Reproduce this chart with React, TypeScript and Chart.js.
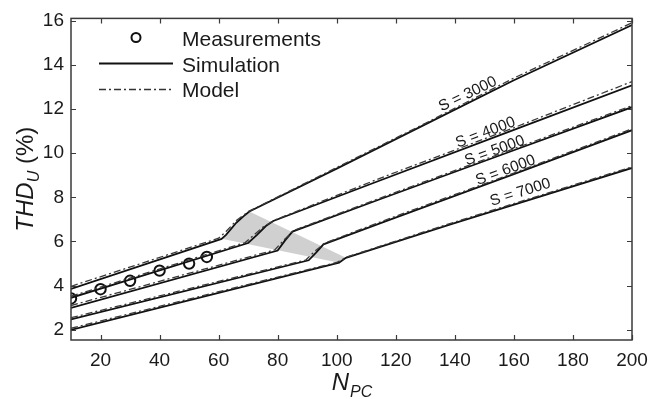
import React, { useEffect, useRef } from "react";
import { Chart, registerables } from "chart.js";
Chart.register(...registerables);

// ---- data ----
const xTicks = [20, 40, 60, 80, 100, 120, 140, 160, 180, 200];
const yTicks = [2, 4, 6, 8, 10, 12, 14, 16];

const measN = [10, 20, 30, 40, 50, 56];
const measTHD = [3.42, 3.84, 4.22, 4.68, 5.0, 5.3];

const sim3000N = [10, 61, 62.5, 66, 68.5, 70.4, 100, 130, 160, 200];
const sim3000THD = [3.85, 6.12, 6.3, 6.85, 7.15, 7.36, 9.3, 11.3, 13.3, 15.8];
const sim4000N = [10, 70, 73, 76, 78.5, 114.4, 160, 200];
const sim4000THD = [3.45, 5.93, 6.3, 6.7, 6.93, 8.75, 11.05, 13.07];
const sim5000N = [10, 80, 82.5, 85, 114.4, 160, 200];
const sim5000THD = [2.99, 5.59, 6.05, 6.45, 7.9, 10.13, 12.08];
const sim6000N = [10, 90.5, 93, 95.5, 114.4, 160, 200];
const sim6000THD = [2.47, 5.15, 5.5, 5.87, 6.81, 9.05, 11.04];
const sim7000N = [10, 100.8, 103.1, 138, 200];
const sim7000THD = [2.0, 5.04, 5.26, 6.75, 9.33];

const mod3000N = [10, 60, 62.5, 66, 70, 100, 130, 160, 200];
const mod3000THD = [3.97, 6.15, 6.45, 6.95, 7.35, 9.35, 11.35, 13.4, 15.9];
const mod4000N = [10, 69, 72, 75, 79, 114.4, 160, 200];
const mod4000THD = [3.52, 5.95, 6.3, 6.65, 6.97, 8.85, 11.15, 13.24];
const mod5000N = [10, 79, 82, 85.5, 114.4, 160, 200];
const mod5000THD = [3.1, 5.62, 6.05, 6.5, 7.95, 10.2, 12.15];
const mod6000N = [10, 89.5, 92.5, 96, 114.4, 160, 200];
const mod6000THD = [2.55, 5.16, 5.55, 5.93, 6.87, 9.1, 11.1];
const mod7000N = [10, 100, 103.5, 138, 200];
const mod7000THD = [2.07, 5.05, 5.3, 6.8, 9.38];

const shadeN = [61, 70.4, 103.1, 100.8];
const shadeTHD = [6.12, 7.36, 5.26, 5.04];

const curveLabels = ["S = 3000", "S = 4000", "S = 5000", "S = 6000", "S = 7000"];
const labelN = [144.4, 150.4, 153.5, 157.2, 162.2];
const labelTHD = [12.67, 10.93, 10.11, 9.22, 8.22];

const legendLabels = ["Measurements", "Simulation", "Model"];

const FONT = "'Liberation Sans', Arial, sans-serif";
const TEXT = "#1a1a1a";

const pts = (xs: number[], ys: number[]) => xs.map((x, i) => ({ x, y: ys[i] }));

const simSets = [
  [sim3000N, sim3000THD],
  [sim4000N, sim4000THD],
  [sim5000N, sim5000THD],
  [sim6000N, sim6000THD],
  [sim7000N, sim7000THD],
];
const modSets = [
  [mod3000N, mod3000THD],
  [mod4000N, mod4000THD],
  [mod5000N, mod5000THD],
  [mod6000N, mod6000THD],
  [mod7000N, mod7000THD],
];

const overlay = {
  id: "overlay",
  beforeDatasetsDraw(chart: any) {
    const { ctx, scales } = chart;
    const x = scales.x, y = scales.y;
    ctx.save();
    ctx.beginPath();
    shadeN.forEach((n, i) => {
      const px = x.getPixelForValue(n), py = y.getPixelForValue(shadeTHD[i]);
      if (i === 0) ctx.moveTo(px, py); else ctx.lineTo(px, py);
    });
    ctx.closePath();
    ctx.fillStyle = "#d0d0d0";
    ctx.fill();
    ctx.restore();
  },
  afterDraw(chart: any) {
    const { ctx, chartArea: a, scales } = chart;
    const x = scales.x, y = scales.y;
    ctx.save();
    // box
    ctx.strokeStyle = "#3a3a3a";
    ctx.lineWidth = 1.5;
    ctx.strokeRect(a.left, a.top, a.right - a.left, a.bottom - a.top);
    // inward ticks
    ctx.lineWidth = 1.2;
    ctx.beginPath();
    const tl = 5;
    xTicks.forEach((v) => {
      const px = Math.round(x.getPixelForValue(v)) + 0.5;
      ctx.moveTo(px, a.bottom); ctx.lineTo(px, a.bottom - tl);
      ctx.moveTo(px, a.top); ctx.lineTo(px, a.top + tl);
    });
    yTicks.forEach((v) => {
      const py = Math.round(y.getPixelForValue(v)) + 0.5;
      ctx.moveTo(a.left, py); ctx.lineTo(a.left + tl, py);
      ctx.moveTo(a.right, py); ctx.lineTo(a.right - tl, py);
    });
    ctx.stroke();

    ctx.fillStyle = TEXT;
    ctx.textBaseline = "alphabetic";
    // x title N_PC
    {
      const cx = (a.left + a.right) / 2;
      ctx.font = `italic 24px ${FONT}`;
      const w1 = ctx.measureText("N").width;
      ctx.font = `italic 16px ${FONT}`;
      const w2 = ctx.measureText("PC").width;
      const sx = cx - (w1 + w2) / 2;
      ctx.font = `italic 24px ${FONT}`;
      ctx.textAlign = "left";
      ctx.fillText("N", sx, 390);
      ctx.font = `italic 16px ${FONT}`;
      ctx.fillText("PC", sx + w1 + 1, 397);
    }
    // y title THD_U (%)
    {
      const cy = (a.top + a.bottom) / 2;
      ctx.save();
      ctx.translate(33, cy);
      ctx.rotate(-Math.PI / 2);
      ctx.font = `italic 24px ${FONT}`;
      const w1 = ctx.measureText("THD").width;
      ctx.font = `italic 16px ${FONT}`;
      const w2 = ctx.measureText("U").width;
      ctx.font = `24px ${FONT}`;
      const w3 = ctx.measureText(" (%)").width;
      const sx = -(w1 + w2 + w3) / 2;
      ctx.textAlign = "left";
      ctx.font = `italic 24px ${FONT}`;
      ctx.fillText("THD", sx, 0);
      ctx.font = `italic 16px ${FONT}`;
      ctx.fillText("U", sx + w1, 6);
      ctx.font = `24px ${FONT}`;
      ctx.fillText(" (%)", sx + w1 + w2, 0);
      ctx.restore();
    }
    // curve labels
    ctx.font = `15.5px ${FONT}`;
    ctx.textAlign = "center";
    ctx.textBaseline = "middle";
    curveLabels.forEach((t, i) => {
      const [xs, ys] = simSets[i];
      const n = xs.length;
      const p1x = x.getPixelForValue(xs[n - 3]), p1y = y.getPixelForValue(ys[n - 3]);
      const p2x = x.getPixelForValue(xs[n - 1]), p2y = y.getPixelForValue(ys[n - 1]);
      const ang = Math.atan2(p2y - p1y, p2x - p1x);
      ctx.save();
      ctx.translate(x.getPixelForValue(labelN[i]), y.getPixelForValue(labelTHD[i]));
      ctx.rotate(ang);
      ctx.fillText(t, 0, 0);
      ctx.restore();
    });
    // legend
    ctx.textAlign = "left";
    ctx.textBaseline = "alphabetic";
    ctx.font = `21px ${FONT}`;
    ctx.strokeStyle = "#111";
    ctx.lineWidth = 2;
    ctx.beginPath();
    ctx.arc(136, 37.5, 4.5, 0, Math.PI * 2);
    ctx.stroke();
    ctx.fillText(legendLabels[0], 182, 45.5);
    ctx.lineWidth = 1.8;
    ctx.beginPath();
    ctx.moveTo(99, 63.5); ctx.lineTo(173, 63.5);
    ctx.stroke();
    ctx.fillText(legendLabels[1], 182, 71.5);
    ctx.strokeStyle = "#333";
    ctx.lineWidth = 1.3;
    ctx.setLineDash([7, 3, 2, 3]);
    ctx.beginPath();
    ctx.moveTo(99, 89.5); ctx.lineTo(171, 89.5);
    ctx.stroke();
    ctx.setLineDash([]);
    ctx.fillText(legendLabels[2], 182, 96.5);
    ctx.restore();
  },
};

export default function App() {
  const ref = useRef<HTMLCanvasElement | null>(null);
  useEffect(() => {
    document.body.style.margin = "0";
    const canvas = ref.current!;
    const datasets: any[] = [];
    modSets.forEach(([xs, ys]) =>
      datasets.push({
        data: pts(xs, ys), showLine: true, borderColor: "#3a3a3a", borderWidth: 1.3,
        borderDash: [7, 3, 2, 3], pointRadius: 0, fill: false, tension: 0,
      })
    );
    simSets.forEach(([xs, ys]) =>
      datasets.push({
        data: pts(xs, ys), showLine: true, borderColor: "#111", borderWidth: 1.8,
        pointRadius: 0, fill: false, tension: 0,
      })
    );
    datasets.push({
      data: pts(measN, measTHD), showLine: false, pointStyle: "circle", pointRadius: 5.2,
      borderWidth: 2, borderColor: "#111", backgroundColor: "rgba(0,0,0,0)",
    });
    const chart = new Chart(canvas, {
      type: "scatter",
      data: { datasets },
      options: {
        animation: false,
        responsive: false,
        devicePixelRatio: 1,
        layout: { padding: { top: 13, right: 30, left: 0, bottom: 0 } },
        plugins: { legend: { display: false }, tooltip: { enabled: false } },
        scales: {
          x: {
            type: "linear", min: 10, max: 200,
            afterBuildTicks: (s: any) => { s.ticks = xTicks.map((v) => ({ value: v })); },
            afterFit: (s: any) => { s.height = 59; },
            grid: { display: false, drawTicks: false },
            border: { display: false },
            ticks: { font: { family: FONT, size: 19 }, color: TEXT, padding: 9, maxRotation: 0, autoSkip: false },
          },
          y: {
            type: "linear", min: 1.54, max: 16.1,
            afterBuildTicks: (s: any) => { s.ticks = yTicks.map((v) => ({ value: v })); },
            afterFit: (s: any) => { s.width = 71; },
            grid: { display: false, drawTicks: false },
            border: { display: false },
            ticks: { font: { family: FONT, size: 19 }, color: TEXT, padding: 7, autoSkip: false },
          },
        },
      } as any,
      plugins: [overlay],
    });
    return () => chart.destroy();
  }, []);
  return <canvas ref={ref} width={662} height={399} style={{ display: "block" }} />;
}
